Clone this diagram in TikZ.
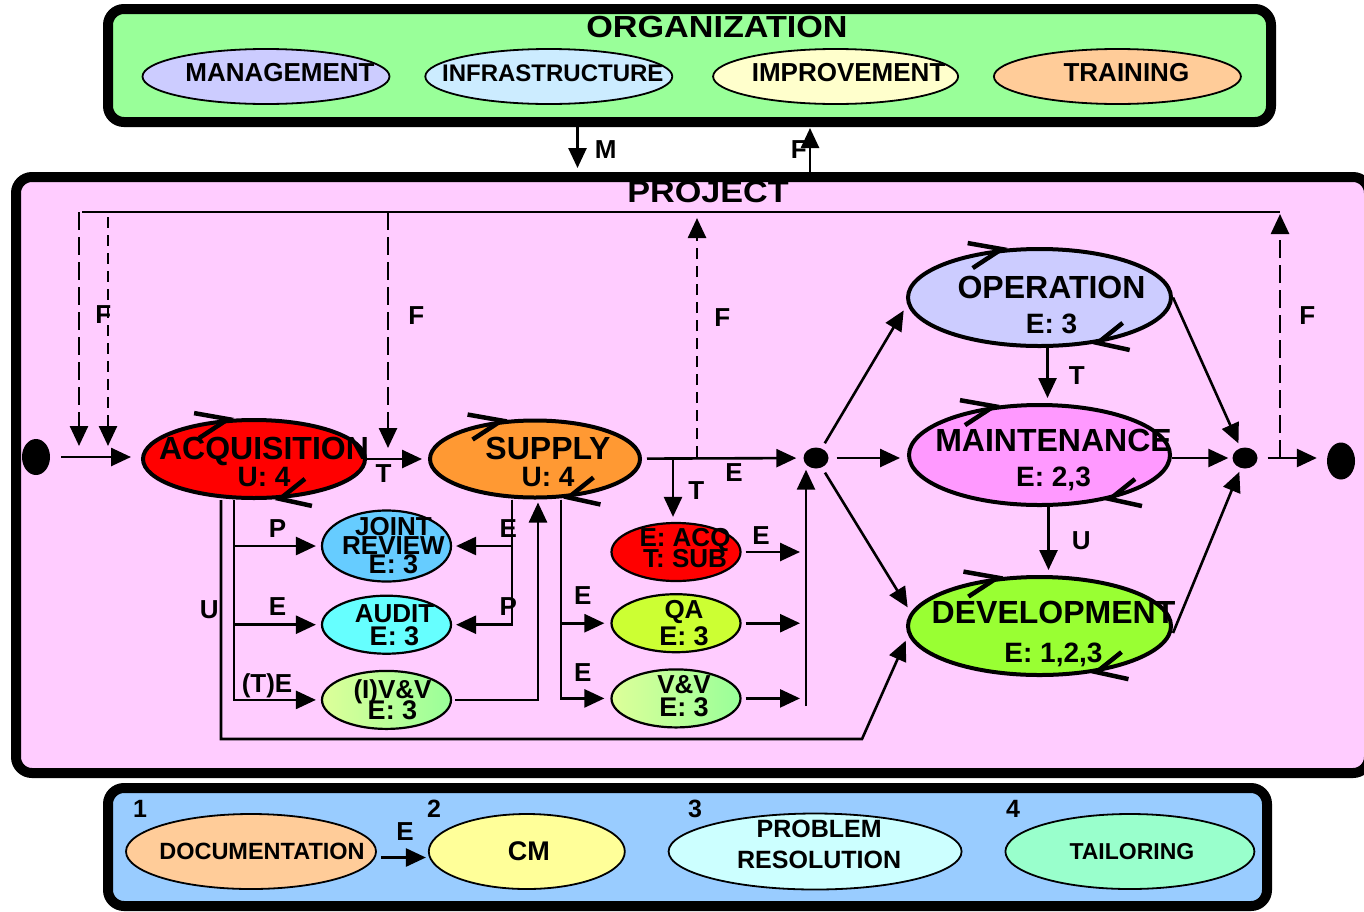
\documentclass[tikz,border=0pt]{standalone}
\usepackage{fontspec}
\setmainfont{Liberation Sans}
\newfontfamily\widefont[FakeStretch=1.12]{Liberation Sans}
\usepackage{tikz}
\usetikzlibrary{positioning, calc, arrows.meta, shapes}
\definecolor{colororg}{HTML}{99FF99}
\definecolor{colorproj}{HTML}{FFCCFF}
\definecolor{colorsupp}{HTML}{99CCFF}
\definecolor{coloracq}{HTML}{FF0000}
\definecolor{colorsup}{HTML}{FF9933}
\definecolor{colorop}{HTML}{CCCCFF}
\definecolor{colormnt}{HTML}{FF99FF}
\definecolor{colordev}{HTML}{99FF33}
\definecolor{colorjr}{HTML}{66CCFF}
\definecolor{coloraud}{HTML}{66FFFF}
\definecolor{colorqa}{HTML}{CCFF33}
\definecolor{colorvvl}{HTML}{DDFF99}
\definecolor{colorvvd}{HTML}{99FF99}
\definecolor{colormgmt}{HTML}{CCCCFF}
\definecolor{colorinfra}{HTML}{CCECFF}
\definecolor{colorimpr}{HTML}{FFFFCC}
\definecolor{colortrain}{HTML}{FFCC99}
\definecolor{colordoc}{HTML}{FFCC99}
\definecolor{colorcm}{HTML}{FFFF99}
\definecolor{colorpr}{HTML}{CCFFFF}
\definecolor{colortail}{HTML}{99FFCC}
\newcommand{\fsz}[1]{\fontsize{#1}{#1}\selectfont\bfseries}
\newcommand{\cycmarks}[3]{%
\draw[cyc] ([shift={(-34,-6)}]#1.#2) -- (#1.#2) -- ++(-29,19);
\draw[cyc] ([shift={(32,7)}]#1.#3) -- (#1.#3) -- ++(25,-20);}
\tikzstyle{area}=[draw, rectangle, rounded corners=16pt, line width=10pt]
\tikzstyle{heading}=[inner sep=0pt, font=\widefont\fsz{30.5}]
\tikzstyle{proc}=[draw, ellipse, line width=4pt, inner sep=0pt]
\tikzstyle{ptext}=[inner sep=0pt, align=center, font=\fsz{32}]
\tikzstyle{task}=[draw, ellipse, line width=2.2pt, inner sep=0pt, minimum width=129pt, minimum height=58pt]
\tikzstyle{ttext}=[inner sep=0pt, align=center, font=\fsz{26}]
\tikzstyle{unitel}=[draw, ellipse, line width=1.8pt, inner sep=0pt, minimum height=55pt]
\tikzstyle{utext}=[inner sep=0pt, align=center, font=\fsz{26}]
\tikzstyle{junc}=[fill, ellipse, inner sep=0pt]
\tikzstyle{flow}=[-{Triangle[length=20pt, width=18pt]}, line width=2.6pt]
\tikzstyle{fbl}=[flow, dash pattern=on 18pt off 7pt]
\tikzstyle{fbs}=[flow, dash pattern=on 11pt off 7pt]
\tikzstyle{elab}=[inner sep=0pt, font=\fsz{26}]
\tikzstyle{num}=[inner sep=0pt, font=\fsz{25}]
\tikzstyle{cyc}=[line width=4.5pt]

\begin{document}
\begin{tikzpicture}[x=1pt, y=-1pt]
\useasboundingbox (0,0) rectangle (1364,911);

% the three areas
\node[area, fill=colororg, minimum width=1163pt, minimum height=113pt](org) at (689.5,65.5){};
\node[area, fill=colorproj, minimum width=1353pt, minimum height=596pt](proj) at (692.5,475){};
\node[area, fill=colorsupp, minimum width=1159pt, minimum height=118pt](supp) at (687.5,847){};
\node[heading](orgt) at (717,27){ORGANIZATION};
\node[heading](projt) at (708,192){PROJECT};

% organization
\node[unitel, fill=colormgmt, minimum width=247pt, label={[utext, xshift=14pt, yshift=3.5pt]center:MANAGEMENT}](mgmt) at (266,76.5){};
\node[unitel, fill=colorinfra, minimum width=247pt, right=34pt of mgmt, label={[utext, font=\fsz{24}, xshift=4pt, yshift=3.5pt]center:INFRASTRUCTURE}](infra){};
\node[unitel, fill=colorimpr, minimum width=245pt, right=39pt of infra, label={[utext, xshift=13pt, yshift=3.5pt]center:IMPROVEMENT}](impr){};
\node[unitel, fill=colortrain, minimum width=247pt, right=34pt of impr, label={[utext, xshift=9pt, yshift=3.5pt]center:TRAINING}](train){};

\draw[flow, shorten >=4pt] ([xshift=-112pt]org.south) -- ([xshift=-112pt]org.south |- proj.north) node[elab, midway, right=16pt]{M};
\draw[flow, shorten >=1pt] ([xshift=120.5pt]org.south |- proj.north) -- ([xshift=120.5pt]org.south) node[elab, midway, left=2pt]{F};

% project
\node[junc, minimum width=28pt, minimum height=36pt](source) at (36,457){};
\node[proc, fill=coloracq, minimum width=222pt, minimum height=78pt, label={[ptext, xshift=10pt, yshift=-3pt]center:{ACQUISITION\\[-5pt]{\fsz{28}U: 4}}}](acq) at (254,459){};
\node[proc, fill=colorsup, minimum width=210pt, minimum height=77pt, right=61pt of acq, label={[ptext, xshift=13pt, yshift=-3pt]center:{SUPPLY\\[-5pt]{\fsz{28}U: 4}}}](sup){};
\node[junc, minimum width=25pt, minimum height=21pt](mdot) at (816,458){};
\node[proc, fill=colormnt, minimum width=261pt, minimum height=100pt, label={[ptext, xshift=14pt, yshift=-5pt]center:{MAINTENANCE\\[3pt]{\fsz{28}E: 2,3}}}](mnt) at (1039.5,455){};
\node[proc, fill=colorop, minimum width=263pt, minimum height=97pt, above=55pt of mnt, label={[ptext, xshift=12pt, yshift=-7pt]center:{OPERATION\\[3pt]{\fsz{28}E: 3}}}](op){};
\node[proc, fill=colordev, minimum width=263pt, minimum height=98pt, below=68pt of mnt, label={[ptext, xshift=14pt, yshift=-8pt]center:{DEVELOPMENT\\[7pt]{\fsz{28}E: 1,2,3}}}](dev){};
\node[junc, minimum width=25pt, minimum height=21pt](rdot) at (1245,458){};
\node[junc, minimum width=28pt, minimum height=37pt](sink) at (1341,461){};

\node[task, fill=colorjr, minimum height=71pt, label={[ttext, xshift=7pt]center:{JOINT\\[-7pt]REVIEW\\[-7pt]{\fsz{27}E: 3}}}](jr) at (386.5,546){};
\node[task, fill=coloraud, below=12pt of jr, label={[ttext, xshift=8pt]center:{AUDIT\\[-3pt]{\fsz{27}E: 3}}}](aud){};
\node[task, left color=colorvvl, right color=colorvvd, below=15pt of aud, label={[ttext, xshift=6pt]center:{(I)V\&V\\[-5pt]{\fsz{27}E: 3}}}](ivv){};
\node[task, fill=coloracq, label={[ttext, xshift=9pt, yshift=4pt]center:{E: ACQ\\[-5pt]T: SUB}}](eacq) at (676,552){};
\node[task, fill=colorqa, below=11pt of eacq, label={[ttext, xshift=8pt]center:{QA\\[1pt]{\fsz{27}E: 3}}}](qa){};
\node[task, left color=colorvvl, right color=colorvvd, below=15pt of qa, label={[ttext, xshift=8pt, yshift=2pt]center:{V\&V\\[-3pt]{\fsz{27}E: 3}}}](vv){};

\cycmarks{acq}{123}{-57}
\cycmarks{sup}{131}{-49}
\cycmarks{op}{128}{-38}
\cycmarks{mnt}{133}{-32}
\cycmarks{dev}{131}{-39}

% feedback line on top
\coordinate (tl) at (82,212);
\coordinate (tr) at (1280,212);
\coordinate (fin1) at (79,446);
\coordinate (fin2) at (108,446);
\coordinate (fin3) at (388,448);
\coordinate (fup1) at (697,457);
\coordinate (fup2) at (1280,458);
\draw[line width=2.6pt] (tl) -- (tr);
\draw[fbl] (fin1 |- tl) -- (fin1) node[elab, pos=0.44, right=15pt]{F};
\draw[fbs] ([yshift=-5pt]fin2 |- tl) -- (fin2);
\draw[fbl] (fin3 |- tl) -- (fin3) node[elab, pos=0.44, right=19pt]{F};
\draw[fbs, shorten >=6pt] (fup1) -- (fup1 |- tl) node[elab, pos=0.57, right=16pt]{F};
\draw[fbl, shorten >=2pt] (fup2) -- (tr) node[elab, pos=0.58, right=18pt]{F};

% main line
\draw[flow, shorten <=11pt, shorten >=10pt] (source) -- (source -| acq.west);
\draw[flow, shorten >=6pt] (acq) -- (sup) node[elab, pos=0.27, below=4pt]{T};
\draw[flow, shorten <=5pt, shorten >=7pt] (sup) -- (mdot) node[elab, pos=0.57, below=4pt]{E};
\draw[flow, shorten >=5pt] ([xshift=-3pt]eacq.north |- sup.east) -- ([xshift=-3pt]eacq.north) node[elab, midway, right=14pt]{T};

% supply side tasks
\coordinate (colb) at (806,706);
\draw[flow, shorten >=1pt] (colb) -- (colb |- mdot.south);
\draw[flow, shorten <=4pt, shorten >=6pt] (eacq) -- (eacq -| colb) node[elab, pos=0.3, above=6pt]{E};
\draw[flow, shorten <=4pt, shorten >=6pt] (qa) -- (qa -| colb);
\draw[flow, shorten <=4pt, shorten >=6pt] (vv) -- (vv -| colb);
\draw[flow, shorten >=6pt] ([xshift=26pt]sup.south) |- (qa) node[elab, pos=0.72, above=17pt]{E};
\draw[flow, shorten >=6pt] ([xshift=26pt]sup.south) |- (vv) node[elab, pos=0.72, above=16pt]{E};
\draw[flow, shorten >=4pt] ([xshift=-23pt]sup.south) |- (jr) node[elab, pos=0.53, above=7pt]{E};
\draw[flow, shorten >=4pt] ([xshift=-23pt]sup.south) |- (aud) node[elab, pos=0.53, above=8pt]{P};
\draw[flow, shorten <=3pt, shorten >=3pt] (ivv) -| ([xshift=3pt]sup.south);

% acquisition side tasks
\draw[flow, shorten >=5pt] ([xshift=-20pt]acq.south) |- (jr) node[elab, pos=0.75, above=7pt]{P};
\draw[flow, shorten >=5pt] ([xshift=-20pt]acq.south) |- (aud) node[elab, pos=0.75, above=8pt]{E};
\draw[flow, shorten >=5pt] ([xshift=-20pt]acq.south) |- (ivv) node[elab, pos=0.69, above=1pt]{(T)E};
\coordinate (ucor) at (862,739);
\draw[flow, shorten >=6pt] ([xshift=-33pt]acq.south) |- (ucor) node[elab, pos=0.23, left=1pt]{U} -- (dev.184);

% to the three processes
\draw[flow, shorten <=6pt, shorten >=7pt] (mdot) -- (op.183);
\draw[flow, shorten <=8pt, shorten >=7pt] (mdot) -- (mdot -| mnt.west);
\draw[flow, shorten <=6pt, shorten >=6pt] (mdot) -- (dev.174);
\draw[flow, shorten >=5pt] ([xshift=8pt]op.south) -- ([xshift=8pt]op.south |- mnt.north) node[elab, midway, right=20pt]{T};
\draw[flow, shorten >=5pt] ([xshift=9pt]mnt.south) -- ([xshift=9pt]mnt.south |- dev.north) node[elab, midway, right=22pt]{U};
\draw[flow, shorten >=5pt] (op.east) -- (rdot);
\draw[flow, shorten >=4pt] (mnt.east |- rdot) -- (rdot);
\draw[flow, shorten >=4pt] ([yshift=-7pt]dev.east) -- (rdot);
\draw[flow, shorten <=10pt, shorten >=10pt] (rdot) -- (rdot -| sink.west);

% supporting
\node[unitel, fill=colordoc, minimum width=250pt, minimum height=75pt, label={[utext, font=\fsz{23.5}, xshift=11pt]center:DOCUMENTATION}](doc) at (251,851.5){};
\node[unitel, fill=colorcm, minimum width=196pt, minimum height=75pt, right=51pt of doc, label={[utext, font=\fsz{27}, xshift=2pt]center:CM}](cm){};
\node[unitel, fill=colorpr, minimum width=293pt, minimum height=76pt, right=42pt of cm, label={[utext, font=\fsz{25}, xshift=4pt, yshift=7pt]center:{PROBLEM\\[6pt]RESOLUTION}}](pr){};
\node[unitel, fill=colortail, minimum width=249pt, minimum height=75pt, right=42pt of pr, label={[utext, font=\fsz{23}, xshift=2pt]center:TAILORING}](tail){};
\node[num](n1) at (140,809){1};
\node[num](n2) at (434,809){2};
\node[num](n3) at (695,809){3};
\node[num](n4) at (1013,809){4};
\draw[flow, shorten <=4pt, shorten >=2pt] ([yshift=-6pt]doc.east) -- ([yshift=-6pt]doc.east -| cm.west) node[elab, pos=0.55, above=16pt]{E};

\end{tikzpicture}
\end{document}
